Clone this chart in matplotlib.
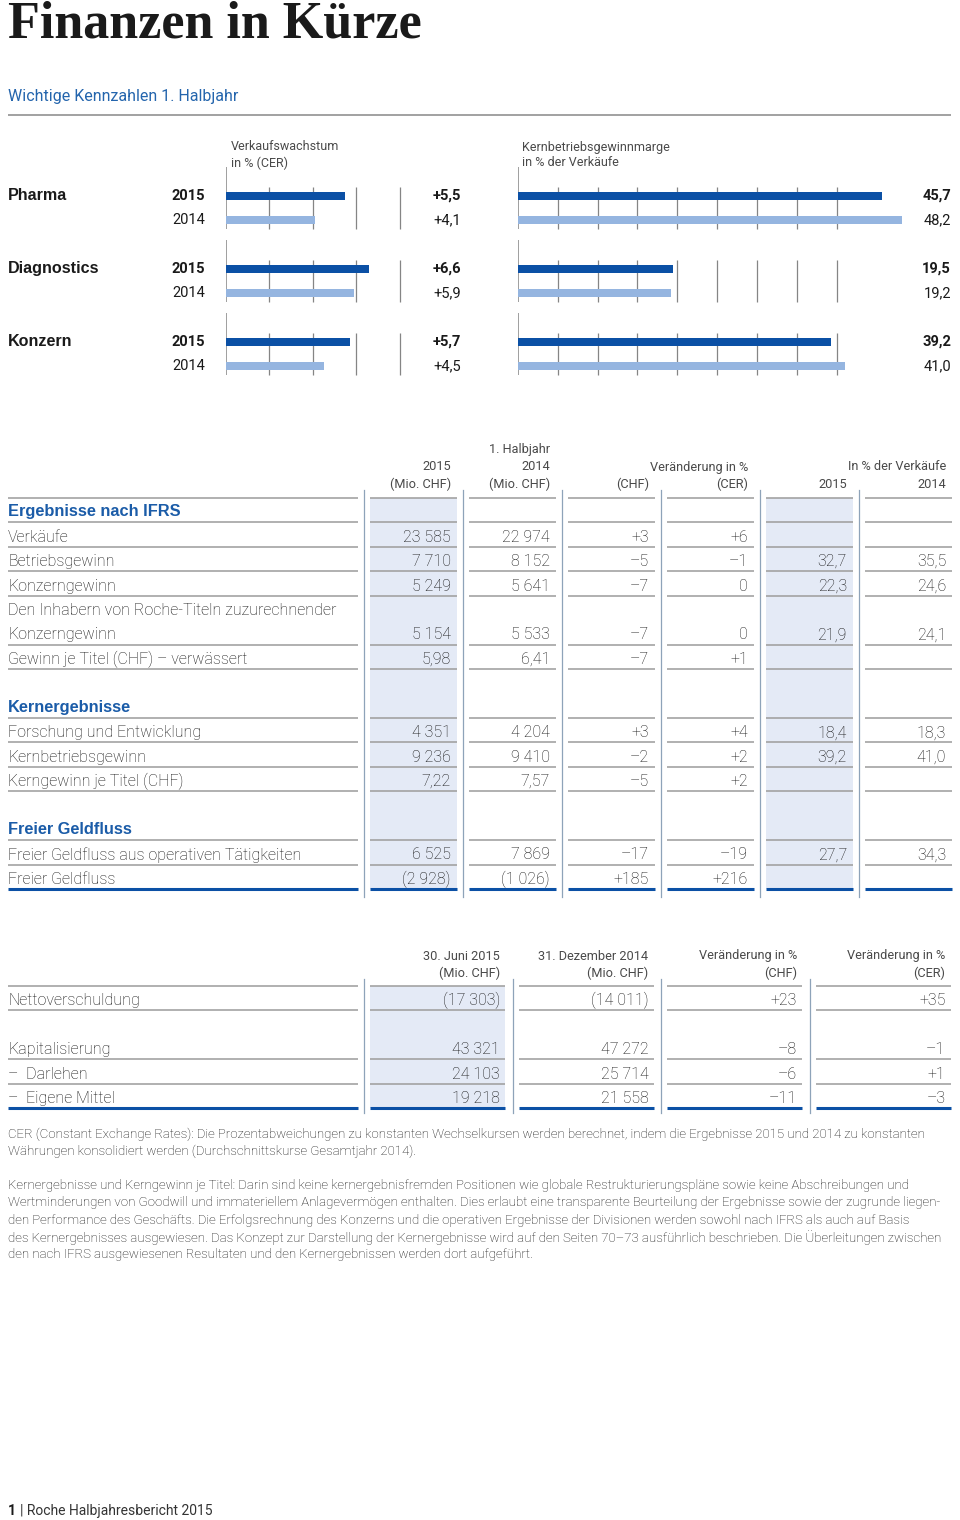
#!/usr/bin/env python3
# -*- coding: utf-8 -*-
"""
Finanzen in Kürze - Roche Halbjahresbericht 2015, Seite 1.
Bar charts of key figures plus the two key figure tables.
"""

import numpy as np
import matplotlib.pyplot as plt
from matplotlib.patches import Rectangle

plt.rcParams['font.family'] = ['Roboto', 'DejaVu Sans']

W, H = 960, 1520
DARK = '#0b50a5'
LIGHT = '#95b5e0'
BLUE_TXT = '#1b5ca8'
GRID = '#858585'
RULE = '#a3a3a3'
SEP = '#8ea3b9'
SHADE = '#e4eaf6'
TXT = '#111111'
HEAD_TXT = '#4a4a4a'
BOLD_FAMILY = ['Liberation Sans', 'DejaVu Sans']

# Bar charts
DIVISIONS = ['Pharma', 'Diagnostics', 'Konzern']
YEARS = ['2015', '2014']
GROWTH_2015 = [5.5, 6.6, 5.7]
GROWTH_2014 = [4.1, 5.9, 4.5]
MARGIN_2015 = [45.7, 19.5, 39.2]
MARGIN_2014 = [48.2, 19.2, 41.0]

# Table 1: results, 1. Halbjahr (None = empty cell)
IFRS_LABELS = ['Verkäufe', 'Betriebsgewinn', 'Konzerngewinn',
               'Den Inhabern von Roche-Titeln zuzurechnender\nKonzerngewinn',
               'Gewinn je Titel (CHF) – verwässert']
IFRS_2015 = [23585, 7710, 5249, 5154, 5.98]
IFRS_2014 = [22974, 8152, 5641, 5533, 6.41]
IFRS_CHF = [3, -5, -7, -7, -7]
IFRS_CER = [6, -1, 0, 0, 1]
IFRS_PCT_2015 = [None, 32.7, 22.3, 21.9, None]
IFRS_PCT_2014 = [None, 35.5, 24.6, 24.1, None]

CORE_LABELS = ['Forschung und Entwicklung', 'Kernbetriebsgewinn',
               'Kerngewinn je Titel (CHF)']
CORE_2015 = [4351, 9236, 7.22]
CORE_2014 = [4204, 9410, 7.57]
CORE_CHF = [3, -2, -5]
CORE_CER = [4, 2, 2]
CORE_PCT_2015 = [18.4, 39.2, None]
CORE_PCT_2014 = [18.3, 41.0, None]

FCF_LABELS = ['Freier Geldfluss aus operativen Tätigkeiten', 'Freier Geldfluss']
FCF_2015 = [6525, -2928]
FCF_2014 = [7869, -1026]
FCF_CHF = [-17, 185]
FCF_CER = [-19, 216]
FCF_PCT_2015 = [27.7, None]
FCF_PCT_2014 = [34.3, None]

SECTIONS = [('Ergebnisse nach IFRS', IFRS_LABELS, IFRS_2015, IFRS_2014, IFRS_CHF,
             IFRS_CER, IFRS_PCT_2015, IFRS_PCT_2014),
            ('Kernergebnisse', CORE_LABELS, CORE_2015, CORE_2014, CORE_CHF,
             CORE_CER, CORE_PCT_2015, CORE_PCT_2014),
            ('Freier Geldfluss', FCF_LABELS, FCF_2015, FCF_2014, FCF_CHF,
             FCF_CER, FCF_PCT_2015, FCF_PCT_2014)]

# Table 2: net debt
NET_LABELS = ['Nettoverschuldung', None, 'Kapitalisierung', '–  Darlehen',
              '–  Eigene Mittel']
NET_JUN_2015 = [-17303, None, 43321, 24103, 19218]
NET_DEC_2014 = [-14011, None, 47272, 25714, 21558]
NET_CHF = [23, None, -8, -6, -11]
NET_CER = [35, None, -1, 1, -3]

FOOTNOTES = [
    ['CER (Constant Exchange Rates): Die Prozentabweichungen zu konstanten Wechselkursen werden berechnet, indem die Ergebnisse 2015 und 2014 zu konstanten',
     'Währungen konsolidiert werden (Durchschnittskurse Gesamtjahr 2014).'],
    ['Kernergebnisse und Kerngewinn je Titel: Darin sind keine kernergebnisfremden Positionen wie globale Restrukturierungspläne sowie keine Abschreibungen und',
     'Wertminderungen von Goodwill und immateriellem Anlagevermögen enthalten. Dies erlaubt eine transparente Beurteilung der Ergebnisse sowie der zugrunde liegen-',
     'den Performance des Geschäfts. Die Erfolgsrechnung des Konzerns und die operativen Ergebnisse der Divisionen werden sowohl nach IFRS als auch auf Basis',
     'des Kernergebnisses ausgewiesen. Das Konzept zur Darstellung der Kernergebnisse wird auf den Seiten 70–73 ausführlich beschrieben. Die Überleitungen zwischen',
     'den nach IFRS ausgewiesenen Resultaten und den Kernergebnissen werden dort aufgeführt.']]


def fmt_amount(v):
    """Mio. CHF with space separator, negatives in brackets, floats 2 decimals"""
    if v is None:
        return ''
    if isinstance(v, float):
        return '{:.2f}'.format(v).replace('.', ',')
    s = '{:,d}'.format(abs(v)).replace(',', ' ')
    return '(' + s + ')' if v < 0 else s


def fmt_change(v):
    if v is None:
        return ''
    if v > 0:
        return '+' + str(v)
    if v < 0:
        return '–' + str(-v)
    return '0'


def fmt_pct(v):
    if v is None:
        return ''
    return '{:.1f}'.format(v).replace('.', ',')


fig = plt.figure(figsize=(W / 100, H / 100), dpi=100)
page = fig.add_axes([0, 0, 1, 1])
page.set_xlim(0, W)
page.set_ylim(H, 0)
page.axis('off')


def add_px_axes(x0, x1, y0, y1):
    return fig.add_axes([x0 / W, 1 - y1 / H, (x1 - x0) / W, (y1 - y0) / H])


def hline(y, x0, x1, color=RULE, lw=1.2):
    page.plot([x0, x1], [y, y], color=color, lw=lw, solid_capstyle='butt')


# Title
page.text(8, 38, 'Finanzen in Kürze', family='Liberation Serif', weight='bold',
          fontsize=37.5, color='#1a1a1a', va='baseline')
page.text(8, 97, 'Wichtige Kennzahlen 1. Halbjahr', fontsize=11.5,
          color='#2465ad', va='center')
hline(115, 8, 951, color='#9a9a9a', lw=1.3)

# ---- bar charts ----
ROW_PX = 24.33
Y0_PX = 195.7
AX_TOP, AX_BOT = 140, 390
y_2015 = np.arange(len(DIVISIONS)) * 3.
y_2014 = y_2015 + 1


def bar_panel(x0, px_per_unit, x_max, grid_step, grid_max, v15, v14):
    ax = add_px_axes(x0, x0 + px_per_unit * x_max, AX_TOP, AX_BOT)
    ax.set_xlim(0, x_max)
    ax.set_ylim((AX_BOT - Y0_PX) / ROW_PX, (AX_TOP - Y0_PX) / ROW_PX)
    ax.axis('off')
    ticks = np.arange(grid_step, grid_max + 0.1, grid_step)
    for y in y_2015:
        ax.vlines(0, y - 1.18, y + 1.37, color=GRID, lw=1.1)
        ax.vlines(ticks, y - 0.36, y + 1.37, color=GRID, lw=0.9)
    ax.barh(y_2015, v15, height=0.34, color=DARK, zorder=3)
    ax.barh(y_2014, v14, height=0.34, color=LIGHT, zorder=3)
    return ax


bar_panel(226, 21.7, 10, 2, 8, GROWTH_2015, GROWTH_2014)
bar_panel(517.7, 7.98, 50, 5, 40, MARGIN_2015, MARGIN_2014)

page.text(231, 147, 'Verkaufswachstum', fontsize=9, color=HEAD_TXT, va='center')
page.text(231, 163, 'in % (CER)', fontsize=9, color=HEAD_TXT, va='center')
page.text(522, 147, 'Kernbetriebsgewinnmarge', fontsize=9, color=HEAD_TXT, va='center')
page.text(522, 163, 'in % der Verkäufe', fontsize=9, color=HEAD_TXT, va='center')

for i, name in enumerate(DIVISIONS):
    for k, year in enumerate(YEARS):
        yp = Y0_PX + (y_2015[i] + k) * ROW_PX
        w = 'bold' if k == 0 else 'normal'
        growth = (GROWTH_2015 if k == 0 else GROWTH_2014)[i]
        margin = (MARGIN_2015 if k == 0 else MARGIN_2014)[i]
        page.text(205, yp, year, fontsize=10.5, weight=w, color='#1a1a1a',
                  ha='right', va='center')
        page.text(461, yp, '+' + fmt_pct(growth), fontsize=10.5, weight=w,
                  color='#1a1a1a', ha='right', va='center')
        page.text(951, yp, fmt_pct(margin), fontsize=10.5, weight=w,
                  color='#1a1a1a', ha='right', va='center')
    page.text(8, Y0_PX + y_2015[i] * ROW_PX, name, family=BOLD_FAMILY,
              fontsize=11.6, weight='bold', color='#1a1a1a', va='center')

# ---- table 1 ----
T1_TOP = 498
PITCH = 24.44
TXT_OFF = 2.5
LABEL_X0, LABEL_X1 = 8, 358
T1_CELL_X = 370 + 99 * np.arange(6)
T1_CELL_W = 87
T1_SHADED = [0, 4]
T1_FS = 11.5
HEAD_FS = 9.2

t1_rows = []  # (label, values, line_below, kind)
for s, (head, labels, a15, a14, chf, cer, p15, p14) in enumerate(SECTIONS):
    if s > 0:
        t1_rows.append(('', None, False, 'blank'))
    t1_rows.append((head, None, True, 'head'))
    for j, lab in enumerate(labels):
        vals = [fmt_amount(a15[j]), fmt_amount(a14[j]), fmt_change(chf[j]),
                fmt_change(cer[j]), fmt_pct(p15[j]), fmt_pct(p14[j])]
        parts = lab.split('\n')
        for extra in parts[:-1]:
            t1_rows.append((extra, None, False, 'row'))
        t1_rows.append((parts[-1], vals, True, 'row'))

t1_bottom = T1_TOP + PITCH * len(t1_rows)
for c in T1_SHADED:
    page.add_patch(Rectangle((T1_CELL_X[c], T1_TOP), T1_CELL_W, t1_bottom - T1_TOP,
                             color=SHADE, lw=0, zorder=0))
for xs in T1_CELL_X - 6:
    page.plot([xs, xs], [490, t1_bottom + 8], color=SEP, lw=0.9)

# header
hdr_y1, hdr_y2, hdr_y0 = 467, 484, 450
right = T1_CELL_X + T1_CELL_W - 6
page.text(right[1], hdr_y0, '1. Halbjahr', fontsize=HEAD_FS, color=HEAD_TXT, ha='right', va='center')
page.text(right[0], hdr_y1, '2015', fontsize=HEAD_FS, color=HEAD_TXT, ha='right', va='center')
page.text(right[1], hdr_y1, '2014', fontsize=HEAD_FS, color=HEAD_TXT, ha='right', va='center')
page.text(right[3], hdr_y1, 'Veränderung in %', fontsize=HEAD_FS, color=HEAD_TXT, ha='right', va='center')
page.text(right[5], hdr_y1, 'In % der Verkäufe', fontsize=HEAD_FS, color=HEAD_TXT, ha='right', va='center')
for c, t in enumerate(['(Mio. CHF)', '(Mio. CHF)', '(CHF)', '(CER)', '2015', '2014']):
    page.text(right[c], hdr_y2, t, fontsize=HEAD_FS, color=HEAD_TXT, ha='right', va='center')


def row_lines(y, cell_x, cell_w, color=RULE, lw=1.2):
    hline(y, LABEL_X0, LABEL_X1, color, lw)
    for cx in cell_x:
        hline(y, cx, cx + cell_w, color, lw)


row_lines(T1_TOP, T1_CELL_X, T1_CELL_W)
for r, (lab, vals, line_below, kind) in enumerate(t1_rows):
    yc = T1_TOP + PITCH * (r + 0.5) + TXT_OFF
    if kind == 'head':
        page.text(LABEL_X0, yc - 1, lab, family=BOLD_FAMILY, fontsize=11.8,
                  weight='bold', color=BLUE_TXT, va='center')
    elif kind == 'row':
        page.text(LABEL_X0, yc, lab, fontsize=T1_FS, weight='light', color=TXT,
                  va='center')
    if vals is not None:
        for c, v in enumerate(vals):
            page.text(right[c], yc, v, fontsize=T1_FS, weight='light', color=TXT,
                      ha='right', va='center')
    if r == len(t1_rows) - 1:
        row_lines(T1_TOP + PITCH * (r + 1), T1_CELL_X, T1_CELL_W, DARK, 2.2)
    elif line_below:
        row_lines(T1_TOP + PITCH * (r + 1), T1_CELL_X, T1_CELL_W)

# ---- table 2 ----
T2_TOP = 986
T2_CELL_X = 370 + 148.5 * np.arange(4)
T2_CELL_W = 135
right2 = T2_CELL_X + T2_CELL_W - 5
t2_bottom = T2_TOP + PITCH * len(NET_LABELS)
page.add_patch(Rectangle((T2_CELL_X[0], T2_TOP), T2_CELL_W, t2_bottom - T2_TOP,
                         color=SHADE, lw=0, zorder=0))
for xs in T2_CELL_X - 6:
    page.plot([xs, xs], [979, t2_bottom + 5], color=SEP, lw=0.9)
t2_head = [('30. Juni 2015', '(Mio. CHF)'), ('31. Dezember 2014', '(Mio. CHF)'),
           ('Veränderung in %', '(CHF)'), ('Veränderung in %', '(CER)')]
for c, (t1, t2) in enumerate(t2_head):
    page.text(right2[c], 956, t1, fontsize=HEAD_FS, color=HEAD_TXT, ha='right', va='center')
    page.text(right2[c], 973, t2, fontsize=HEAD_FS, color=HEAD_TXT, ha='right', va='center')

row_lines(T2_TOP, T2_CELL_X, T2_CELL_W)
for r, lab in enumerate(NET_LABELS):
    if lab is None:
        continue
    yc = T2_TOP + PITCH * (r + 0.5) + TXT_OFF
    page.text(LABEL_X0, yc, lab, fontsize=T1_FS, weight='light', color=TXT, va='center')
    vals = [fmt_amount(NET_JUN_2015[r]), fmt_amount(NET_DEC_2014[r]),
            fmt_change(NET_CHF[r]), fmt_change(NET_CER[r])]
    for c, v in enumerate(vals):
        page.text(right2[c], yc, v, fontsize=T1_FS, weight='light', color=TXT,
                  ha='right', va='center')
    if r == len(NET_LABELS) - 1:
        row_lines(T2_TOP + PITCH * (r + 1), T2_CELL_X, T2_CELL_W, DARK, 2.2)
    else:
        row_lines(T2_TOP + PITCH * (r + 1), T2_CELL_X, T2_CELL_W)

# ---- footnotes ----
y = 1134
for block in FOOTNOTES:
    for line in block:
        page.text(8, y, line, fontsize=9.5, weight='light', color=TXT, va='center')
        y += 17.3
    y += 17

page.text(8, 1511, '1', fontsize=10, weight='bold', color='#1a1a1a', va='center')
page.text(20, 1511, '| Roche Halbjahresbericht 2015', fontsize=10, color='#333333',
          va='center')

fig.savefig('out.png', dpi=100)
